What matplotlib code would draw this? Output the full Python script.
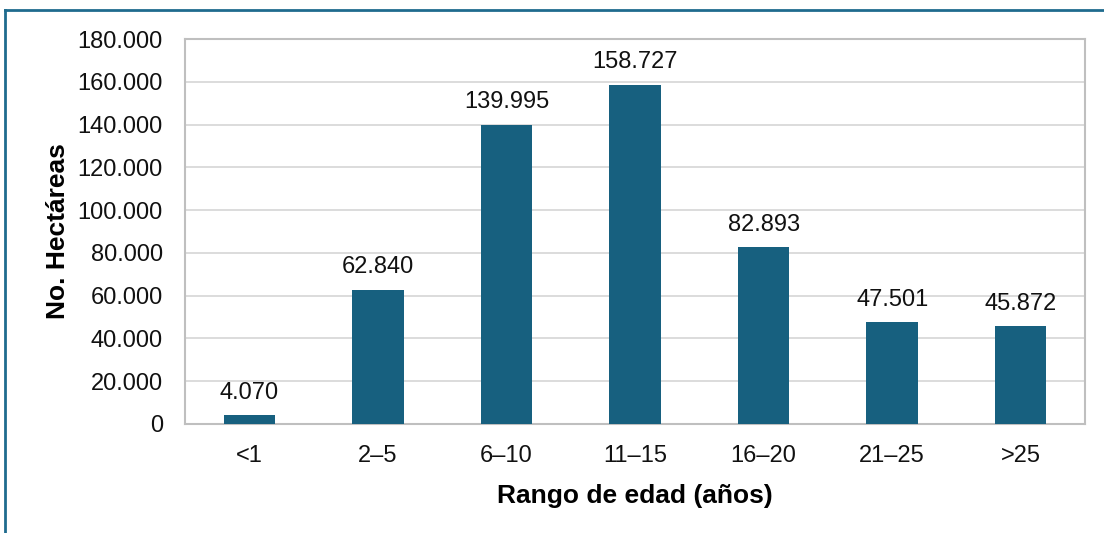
import matplotlib.pyplot as plt
from matplotlib.ticker import FuncFormatter

categorias = ["<1", "2–5", "6–10", "11–15", "16–20", "21–25", ">25"]
hectareas = [4070, 62840, 139995, 158727, 82893, 47501, 45872]
y_ticks = list(range(0, 180001, 20000))

BAR_COLOR = "#17607f"
GRID_COLOR = "#d9d9d9"
FRAME_COLOR = "#bfbfbf"
BORDER_COLOR = "#1f6b8e"


def miles(v, pos=None):
	"""formats a number with dot as thousands separator"""
	return "{:,.0f}".format(v).replace(",", ".")


def main():
	plt.rcParams["font.family"] = ["Liberation Sans", "DejaVu Sans"]
	fig = plt.figure(figsize=(11.04, 5.33), dpi=100)
	ax = fig.add_axes([185 / 1104, 1 - 424 / 533, 900 / 1104, 385 / 533])

	x = range(len(categorias))
	ax.bar(x, hectareas, width=0.4, color=BAR_COLOR, zorder=3)
	for xi, v in zip(x, hectareas):
		ax.annotate(miles(v), (xi, v), xytext=(0, 8), textcoords="offset points",
					ha="center", va="bottom", fontsize=17, color="#111111")

	ax.set_xlim(-0.5, len(categorias) - 0.5)
	ax.set_ylim(0, 180000)
	ax.set_yticks(y_ticks)
	ax.yaxis.set_major_formatter(FuncFormatter(miles))
	ax.set_xticks(list(x))
	ax.set_xticklabels(categorias)
	ax.tick_params(axis="both", length=0, labelsize=17, colors="#111111")
	ax.tick_params(axis="x", pad=15)
	ax.tick_params(axis="y", pad=16)
	ax.grid(axis="y", color=GRID_COLOR, linewidth=1.3, zorder=0)
	for s in ax.spines.values():
		s.set_color(FRAME_COLOR)
		s.set_linewidth(1.5)

	ax.set_ylabel("No. Hectáreas", fontsize=19, fontweight="bold", labelpad=5)
	ax.set_xlabel("Rango de edad (años)", fontsize=19, fontweight="bold", labelpad=12)

	# outer border only on top and left
	fig.add_artist(plt.Line2D([5.5 / 1104, 5.5 / 1104], [0, 1 - 10 / 533], color=BORDER_COLOR, linewidth=2))
	fig.add_artist(plt.Line2D([5.5 / 1104, 1], [1 - 10 / 533, 1 - 10 / 533], color=BORDER_COLOR, linewidth=2))

	fig.savefig("out.png", dpi=100)


if __name__ == "__main__":
	main()
